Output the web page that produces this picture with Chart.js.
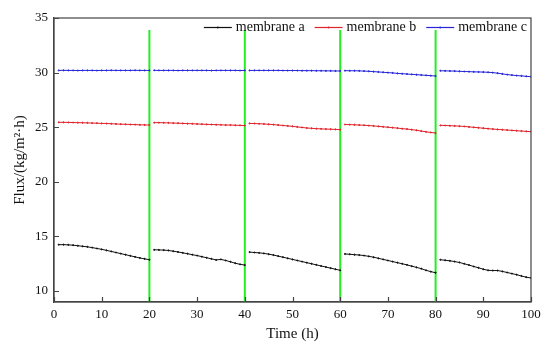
<!DOCTYPE html>
<html>
<head>
<meta charset="utf-8">
<script src="https://cdn.jsdelivr.net/npm/chart.js@4"></script>
<style>
  html, body { margin: 0; padding: 0; background: #fff; }
  #wrap { width: 550px; height: 347px; }
</style>
</head>
<body>
<div id="wrap"><canvas id="fluxChart" width="550" height="347"></canvas></div>
<script>
// hours within each 20 h run, runs start at 0, 20, 40, 60, 80
const runStarts = [0, 20, 40, 60, 80];
const runHours = [1, 2, 3, 4, 5, 6, 7, 8, 9, 10, 11, 12, 13, 14, 15, 16, 17, 18, 19, 20];

// flux values, one sub-array per 20 h run
const membraneA = [
  [14.25, 14.25, 14.23, 14.2, 14.15, 14.1, 14.05, 13.98, 13.9, 13.82, 13.73, 13.63, 13.53, 13.43, 13.33, 13.23, 13.13, 13.03, 12.95, 12.87],
  [13.78, 13.77, 13.75, 13.72, 13.65, 13.58, 13.5, 13.42, 13.33, 13.25, 13.15, 13.05, 12.95, 12.85, 12.9, 12.8, 12.68, 12.55, 12.45, 12.38],
  [13.57, 13.53, 13.5, 13.45, 13.38, 13.3, 13.2, 13.1, 13.0, 12.9, 12.8, 12.7, 12.6, 12.5, 12.4, 12.3, 12.2, 12.1, 12.0, 11.9],
  [13.4, 13.37, 13.33, 13.3, 13.25, 13.18, 13.1, 13.0, 12.9, 12.8, 12.7, 12.6, 12.5, 12.4, 12.28, 12.17, 12.05, 11.9, 11.78, 11.68],
  [12.87, 12.82, 12.77, 12.7, 12.62, 12.5, 12.38, 12.25, 12.13, 12.0, 11.9, 11.88, 11.88, 11.8, 11.7, 11.6, 11.5, 11.38, 11.27, 11.2]
];
const membraneB = [
  [25.45, 25.45, 25.44, 25.43, 25.42, 25.41, 25.4, 25.38, 25.37, 25.35, 25.34, 25.32, 25.3, 25.28, 25.27, 25.25, 25.24, 25.22, 25.21, 25.2],
  [25.42, 25.42, 25.41, 25.4, 25.38, 25.37, 25.35, 25.33, 25.32, 25.3, 25.28, 25.26, 25.25, 25.23, 25.22, 25.2, 25.2, 25.18, 25.17, 25.15],
  [25.35, 25.34, 25.32, 25.3, 25.27, 25.24, 25.2, 25.16, 25.12, 25.08, 25.03, 24.98, 24.93, 24.9, 24.87, 24.85, 24.83, 24.82, 24.8, 24.78],
  [25.25, 25.24, 25.22, 25.2, 25.18, 25.15, 25.12, 25.08, 25.04, 25.0, 24.96, 24.92, 24.87, 24.83, 24.78, 24.72, 24.65, 24.58, 24.52, 24.47],
  [25.17, 25.16, 25.14, 25.12, 25.1, 25.07, 25.03, 24.99, 24.95, 24.91, 24.87, 24.83, 24.8, 24.77, 24.74, 24.71, 24.68, 24.65, 24.62, 24.6]
];
const membraneC = [
  [30.2, 30.21, 30.2, 30.2, 30.19, 30.2, 30.2, 30.2, 30.19, 30.2, 30.2, 30.21, 30.2, 30.2, 30.2, 30.2, 30.21, 30.2, 30.2, 30.2],
  [30.21, 30.2, 30.2, 30.2, 30.2, 30.19, 30.2, 30.2, 30.2, 30.2, 30.2, 30.2, 30.19, 30.2, 30.2, 30.2, 30.2, 30.2, 30.19, 30.2],
  [30.2, 30.2, 30.2, 30.2, 30.2, 30.2, 30.2, 30.19, 30.19, 30.19, 30.19, 30.18, 30.18, 30.18, 30.17, 30.17, 30.16, 30.16, 30.15, 30.15],
  [30.18, 30.17, 30.17, 30.16, 30.14, 30.12, 30.09, 30.06, 30.03, 30.0, 29.97, 29.93, 29.9, 29.87, 29.84, 29.81, 29.78, 29.75, 29.72, 29.69],
  [30.17, 30.16, 30.15, 30.14, 30.12, 30.1, 30.09, 30.07, 30.06, 30.05, 30.03, 30.0, 29.95, 29.88, 29.82, 29.77, 29.73, 29.7, 29.66, 29.63]
];

// green cleaning markers
const dividerTimes = [20, 40, 60, 80];
const dividerRange = [9, 33.9];

const xTicks = [0, 10, 20, 30, 40, 50, 60, 70, 80, 90, 100];
const yTicks = [10, 15, 20, 25, 30, 35];

const serif = "'Liberation Serif', 'Times New Roman', serif";

// join runs into one series with a gap between runs
function buildSeries(runs) {
  const pts = [];
  runs.forEach(function (vals, r) {
    vals.forEach(function (v, i) {
      pts.push({ x: runStarts[r] + runHours[i], y: v });
    });
    if (r < runs.length - 1) pts.push({ x: runStarts[r] + 20.5, y: null });
  });
  return pts;
}

const lineStyle = {
  borderWidth: 1,
  pointRadius: 0.6,
  pointHoverRadius: 0,
  tension: 0,
  spanGaps: false,
  fill: false
};

const datasets = [
  Object.assign({ label: 'membrane a', data: buildSeries(membraneA), borderColor: '#111111', backgroundColor: '#111111' }, lineStyle),
  Object.assign({ label: 'membrane b', data: buildSeries(membraneB), borderColor: '#e0242c', backgroundColor: '#e0242c' }, lineStyle),
  Object.assign({ label: 'membrane c', data: buildSeries(membraneC), borderColor: '#2626d8', backgroundColor: '#2626d8' }, lineStyle)
];
dividerTimes.forEach(function (t) {
  datasets.push({
    label: '',
    isDivider: true,
    data: [{ x: t, y: dividerRange[0] }, { x: t, y: dividerRange[1] }],
    borderColor: '#22ee22',
    borderWidth: 2,
    pointRadius: 0,
    fill: false
  });
});

// box around the plot, inward tick marks and the legend inside the plot
const frame = {
  id: 'frame',
  afterDraw(chart) {
    const a = chart.chartArea, c = chart.ctx;
    const sx = chart.scales.x, sy = chart.scales.y;
    c.save();
    c.strokeStyle = '#444';
    c.lineWidth = 1.2;
    c.strokeRect(a.left, a.top, a.right - a.left, a.bottom - a.top);
    c.beginPath();
    xTicks.forEach(function (v) {
      const px = Math.round(sx.getPixelForValue(v)) + 0.5;
      c.moveTo(px, a.bottom); c.lineTo(px, a.bottom - 5);
    });
    yTicks.forEach(function (v) {
      const py = Math.round(sy.getPixelForValue(v)) + 0.5;
      c.moveTo(a.left, py); c.lineTo(a.left + 5, py);
    });
    c.stroke();

    // legend
    c.font = '14px ' + serif;
    c.textBaseline = 'middle';
    const items = chart.data.datasets.filter(function (d) { return !d.isDivider; });
    const lineLen = 28, gapAfterLine = 4, gapItems = 10;
    let total = 0;
    items.forEach(function (d, i) {
      total += lineLen + gapAfterLine + c.measureText(d.label).width + (i ? gapItems : 0);
    });
    let x = a.right - 4 - total;
    const y = a.top + 9;
    items.forEach(function (d) {
      c.strokeStyle = d.borderColor;
      c.lineWidth = 1.2;
      c.beginPath(); c.moveTo(x, y + 0.5); c.lineTo(x + lineLen, y + 0.5); c.stroke();
      c.fillStyle = d.borderColor;
      c.beginPath(); c.arc(x + lineLen / 2, y + 0.5, 0.9, 0, Math.PI * 2); c.fill();
      x += lineLen + gapAfterLine;
      c.fillStyle = '#111';
      c.fillText(d.label, x, y);
      x += c.measureText(d.label).width + gapItems;
    });
    c.restore();
  }
};

document.addEventListener('DOMContentLoaded', function () {
  const ctx = document.getElementById('fluxChart').getContext('2d');
  new Chart(ctx, {
    type: 'line',
    data: { datasets: datasets },
    options: {
      responsive: false,
      animation: false,
      layout: { padding: { left: 0, right: 19, top: 18, bottom: 0 } },
      plugins: {
        tooltip: { enabled: false },
        legend: { display: false }
      },
      scales: {
        x: {
          type: 'linear',
          min: 0,
          max: 100,
          afterBuildTicks: function (axis) { axis.ticks = xTicks.map(function (v) { return { value: v }; }); },
          grid: { drawOnChartArea: false, drawTicks: false },
          border: { color: '#444', width: 1.2 },
          ticks: { color: '#111', padding: 5, maxRotation: 0, font: { family: serif, size: 13 } },
          title: { display: true, text: 'Time (h)', color: '#111', padding: { top: 2, bottom: 4 }, font: { family: serif, size: 15 } },
          afterFit: function (axis) { axis.height = 45; axis.paddingLeft = 0; axis.paddingRight = 0; }
        },
        y: {
          min: 9,
          max: 35,
          afterBuildTicks: function (axis) { axis.ticks = yTicks.map(function (v) { return { value: v }; }); },
          grid: { drawOnChartArea: false, drawTicks: false },
          border: { color: '#444', width: 1.2 },
          ticks: { color: '#111', padding: 6, font: { family: serif, size: 13 } },
          title: { display: true, text: 'Flux/(kg/m²·h)', color: '#111', padding: { top: 11, bottom: 0 }, font: { family: serif, size: 15 } },
          afterFit: function (axis) { axis.width = 54; axis.paddingTop = 0; axis.paddingBottom = 0; }
        }
      }
    },
    plugins: [frame]
  });
});
</script>
</body>
</html>
